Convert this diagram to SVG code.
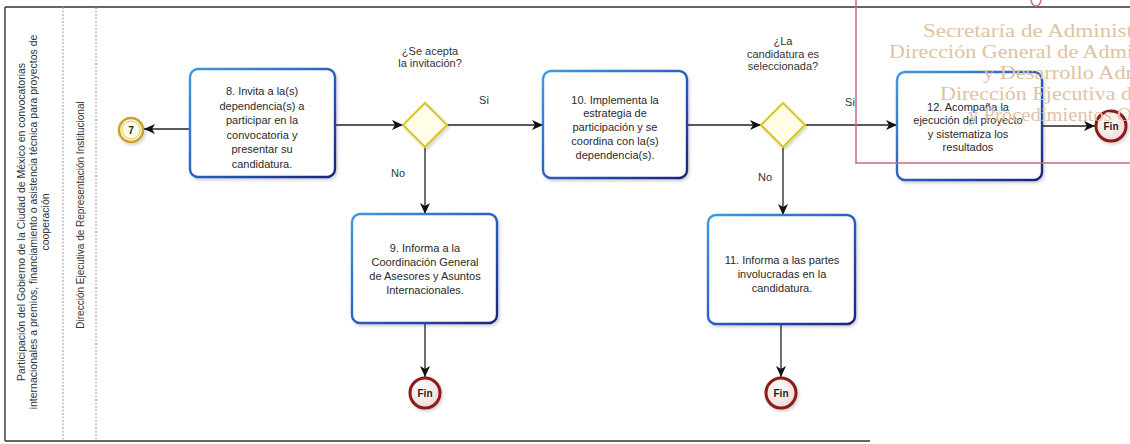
<svg xmlns="http://www.w3.org/2000/svg" width="1130" height="444" viewBox="0 0 1130 444">
  <defs>
    <style>
      .lane { fill: none; stroke: #9a9a9a; stroke-width: 1; stroke-dasharray: 2 1.5; }
      .frame { fill: none; stroke: #333; stroke-width: 1.4; }
      .laneText { font-family: "Liberation Sans", Arial, sans-serif; font-size: 10.5px; fill: #333; text-anchor: middle; }
      .task { fill: #fff; stroke: url(#taskStroke); stroke-width: 2.4; }
      .taskText { font-family: "Liberation Sans", Arial, sans-serif; font-size: 11px; fill: #2a2a2a; text-anchor: middle; }
      .gw { fill: #fffde6; stroke: #d6c628; stroke-width: 2; }
      .label { font-family: "Liberation Sans", Arial, sans-serif; font-size: 11px; fill: #333; text-anchor: middle; }
      .flow { fill: none; stroke: #222; stroke-width: 1.3; marker-end: url(#arrow); }
      .end { fill: url(#endFill); stroke: #8b1a1a; stroke-width: 3; }
      .endText { font-family: "Liberation Sans", Arial, sans-serif; font-size: 10px; font-weight: bold; fill: #222; text-anchor: middle; }
      .stamp { fill: none; stroke: #c76b82; stroke-width: 1.5; }
      .stampText { font-family: "Liberation Serif", "Times New Roman", serif; font-size: 19px; fill: #dfc3a4; }
    </style>
    <linearGradient id="taskStroke" x1="0" y1="0" x2="1" y2="1">
      <stop offset="0" stop-color="#3f9ae0"/>
      <stop offset="0.5" stop-color="#2b5fc0"/>
      <stop offset="1" stop-color="#1a237e"/>
    </linearGradient>
    <radialGradient id="endFill" cx="0.4" cy="0.35" r="0.7">
      <stop offset="0" stop-color="#ffffff"/>
      <stop offset="1" stop-color="#f3d6d6"/>
    </radialGradient>
    <filter id="soft" x="-10%" y="-10%" width="130%" height="130%">
      <feDropShadow dx="1.5" dy="2" stdDeviation="1.5" flood-color="#000" flood-opacity="0.18"/>
    </filter>
    <marker id="arrow" markerUnits="userSpaceOnUse" markerWidth="12" markerHeight="10" refX="11" refY="5" orient="auto">
      <path d="M0,0 L11,5 L0,10 L3,5 z" fill="#111"/>
    </marker>
  </defs>

  <rect width="1130" height="444" fill="#fff"/>

  <!-- pool frame and lanes -->
  <g id="pool">
    <line class="frame" x1="5" y1="7" x2="1130" y2="7"/>
    <line class="frame" x1="5" y1="7" x2="5" y2="441"/>
    <line class="frame" x1="5" y1="441" x2="870" y2="441"/>
    <line class="lane" x1="63" y1="7" x2="63" y2="441"/>
    <line class="lane" x1="96" y1="7" x2="96" y2="441"/>
    <g transform="translate(0,222) rotate(-90)">
      <text class="laneText" x="0" y="25">Participación del Gobierno de la Ciudad de México en convocatorias</text>
      <text class="laneText" x="0" y="37">internacionales a premios, financiamiento o asistencia técnica para proyectos de</text>
      <text class="laneText" x="0" y="49">cooperación</text>
    </g>
    <text class="laneText" transform="translate(84,215) rotate(-90)" x="0" y="0" style="font-size:10px">Dirección Ejecutiva de Representación Institucional</text>
  </g>

  <!-- connectors -->
  <g id="connectors">
    <line class="flow" x1="190" y1="129" x2="144" y2="129"/>
    <line class="flow" x1="335" y1="125" x2="403" y2="125"/>
    <line class="flow" x1="447" y1="125" x2="543" y2="125"/>
    <line class="flow" x1="687" y1="125" x2="761" y2="125"/>
    <line class="flow" x1="804" y1="125" x2="897" y2="125"/>
    <line class="flow" x1="1042" y1="126" x2="1095" y2="126"/>
    <line class="flow" x1="425" y1="147" x2="425" y2="214"/>
    <line class="flow" x1="425" y1="323" x2="425" y2="377"/>
    <line class="flow" x1="783" y1="147" x2="783" y2="215"/>
    <line class="flow" x1="781" y1="324" x2="781" y2="377"/>
    <text class="label" x="484" y="104">Si</text>
    <text class="label" x="398" y="177">No</text>
    <text class="label" x="850" y="106">Si</text>
    <text class="label" x="765" y="181">No</text>
  </g>

  <!-- start link event 7 -->
  <g id="start7">
    <circle cx="131" cy="130" r="12" fill="#fffbe8" stroke="#c9a227" stroke-width="2.5" filter="url(#soft)"/>
    <circle cx="131" cy="130" r="9" fill="none" stroke="#e3c75a" stroke-width="1"/>
    <text class="endText" x="131" y="134">7</text>
  </g>

  <g id="task8">
    <rect class="task" x="190" y="69" width="145" height="108" rx="8" filter="url(#soft)"/>
    <text class="taskText" x="262" y="95">8. Invita a la(s)</text>
    <text class="taskText" x="262" y="110">dependencia(s) a</text>
    <text class="taskText" x="262" y="124">participar en la</text>
    <text class="taskText" x="262" y="139">convocatoria y</text>
    <text class="taskText" x="262" y="153">presentar su</text>
    <text class="taskText" x="262" y="168">candidatura.</text>
  </g>

  <g id="gateway1">
    <polygon class="gw" points="425,103 447,125 425,147 403,125" filter="url(#soft)"/>
    <text class="label" x="430" y="55">¿Se acepta</text>
    <text class="label" x="430" y="67">la invitación?</text>
  </g>

  <g id="task9">
    <rect class="task" x="352" y="214" width="145" height="109" rx="8" filter="url(#soft)"/>
    <text class="taskText" x="425" y="252">9. Informa a la</text>
    <text class="taskText" x="425" y="266">Coordinación General</text>
    <text class="taskText" x="425" y="280">de Asesores y Asuntos</text>
    <text class="taskText" x="425" y="294">Internacionales.</text>
  </g>

  <g id="end9">
    <circle class="end" cx="425" cy="393" r="15" filter="url(#soft)"/>
    <text class="endText" x="425" y="397">Fin</text>
  </g>

  <g id="task10">
    <rect class="task" x="543" y="71" width="144" height="107" rx="8" filter="url(#soft)"/>
    <text class="taskText" x="615" y="104">10. Implementa la</text>
    <text class="taskText" x="615" y="117">estrategia de</text>
    <text class="taskText" x="615" y="131">participación y se</text>
    <text class="taskText" x="615" y="145">coordina con la(s)</text>
    <text class="taskText" x="615" y="159">dependencia(s).</text>
  </g>

  <g id="gateway2">
    <polygon class="gw" points="783,103 805,125 783,147 761,125" filter="url(#soft)"/>
    <text class="label" x="783" y="45">¿La</text>
    <text class="label" x="783" y="58">candidatura es</text>
    <text class="label" x="783" y="70">seleccionada?</text>
  </g>

  <g id="task11">
    <rect class="task" x="708" y="215" width="147" height="109" rx="8" filter="url(#soft)"/>
    <text class="taskText" x="782" y="264">11. Informa a las partes</text>
    <text class="taskText" x="782" y="278">involucradas en la</text>
    <text class="taskText" x="782" y="292">candidatura.</text>
  </g>

  <g id="end11">
    <circle class="end" cx="781" cy="393" r="15" filter="url(#soft)"/>
    <text class="endText" x="781" y="397">Fin</text>
  </g>

  <g id="task12">
    <rect class="task" x="897" y="72" width="145" height="108" rx="8" filter="url(#soft)"/>
    <text class="taskText" x="968" y="111">12. Acompaña la</text>
    <text class="taskText" x="968" y="124">ejecución del proyecto</text>
    <text class="taskText" x="968" y="138">y sistematiza los</text>
    <text class="taskText" x="968" y="151">resultados</text>
  </g>

  <g id="end12">
    <circle class="end" cx="1111" cy="126" r="15" filter="url(#soft)"/>
    <text class="endText" x="1111" y="130">Fin</text>
  </g>

  <!-- received stamp, top right -->
  <g id="stamp">
    <rect class="stamp" x="856" y="-5" width="290" height="168"/>
    <path class="stamp" d="M1031,0 Q1032,6 1036,6 Q1040,6 1041,0"/>
    <text class="stampText" x="923" y="37" textLength="210" lengthAdjust="spacingAndGlyphs">Secretaría  de Administ</text>
    <text class="stampText" x="889" y="58" textLength="244" lengthAdjust="spacingAndGlyphs">Dirección General de Admi</text>
    <text class="stampText" x="983" y="79" textLength="150" lengthAdjust="spacingAndGlyphs">y Desarrollo Adr</text>
    <text class="stampText" x="940" y="100" textLength="192" lengthAdjust="spacingAndGlyphs">Dirección Ejecutiva d</text>
    <text class="stampText" x="968" y="121" textLength="164" lengthAdjust="spacingAndGlyphs">y Procedimientos O</text>
  </g>
</svg>
